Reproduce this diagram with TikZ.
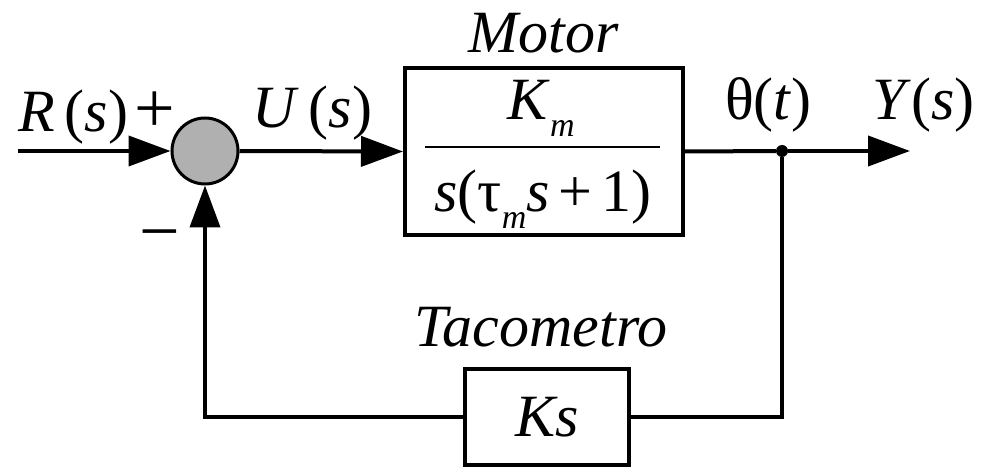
\documentclass[tikz,border=0pt]{standalone}
\usepackage{fontspec}
\setmainfont{Liberation Serif}
\usetikzlibrary{arrows.meta}
\definecolor{sumgray}{RGB}{176,176,176}
\newcommand\subm{\raisebox{-0.28em}{\fontsize{34}{36}\selectfont\itshape m}}
\begin{document}
\begin{tikzpicture}[x=1pt,y=-1pt,
  lbl/.style={inner sep=0pt, font=\fontsize{60}{64}\selectfont},
  sgn/.style={inner sep=0pt, font=\fontsize{72}{76}\selectfont},
  line/.style={line width=4pt},
  arr/.style={line width=4pt, -{Triangle[length=42pt,width=30pt]}},
  blk/.style={draw, line width=4pt, inner sep=0pt, font=\fontsize{60}{64}\selectfont}]
\useasboundingbox (0,0) rectangle (983,470);
% blocks
\node[circle, draw, line width=3pt, fill=sumgray, minimum size=66pt, inner sep=0pt] (sum) at (205,151) {};
\node[blk, minimum width=278pt, minimum height=167pt] (motor) at (544,151.5) {};
\node[blk, minimum width=164pt, minimum height=95pt] (ks) at (547,417) {\textit{Ks}};
\node[circle, fill, inner sep=0pt, minimum size=12pt] (dot) at (782,151) {};
\coordinate (in) at (18,151);
\coordinate (out) at (910,151);
% fraction
\node[lbl, anchor=base] (num) at (541,120) {\textit{K}\subm};
\node[lbl, anchor=base] (den) at (543,212) {\textit{s}(τ\subm\textit{s}\hspace{9pt}+\hspace{9pt}1)};
\draw[line width=2pt] (425,147) -- (660,147);
% labels
\node[lbl, anchor=base west] (R) at (18,132) {\textit{R}\,(\textit{s})};
\node[sgn, anchor=base] (plus) at (155,133) {+};
\node[sgn, anchor=base] (minus) at (160,256) {−};
\node[lbl, anchor=base west] (U) at (252,128) {\textit{U}\,(\textit{s})};
\node[lbl, anchor=base] (motorlbl) at (544,53) {\textit{Motor}};
\node[lbl, anchor=base west] (theta) at (725,120) {θ(\textit{t})};
\node[lbl, anchor=base east] (Y) at (975,120) {\textit{Y}(\textit{s})};
\node[lbl, anchor=base] (taco) at (541,347) {\textit{Tacometro}};
% connectors
\draw[arr] (in) -- (sum.west);
\draw[arr] (sum.east) -- (motor.west);
\draw[line] (motor.east) -- (dot);
\draw[arr] (dot) -- (out);
\draw[line] (dot) |- (ks.east);
\draw[arr] (ks.west) -| (sum.south);
\end{tikzpicture}
\end{document}
